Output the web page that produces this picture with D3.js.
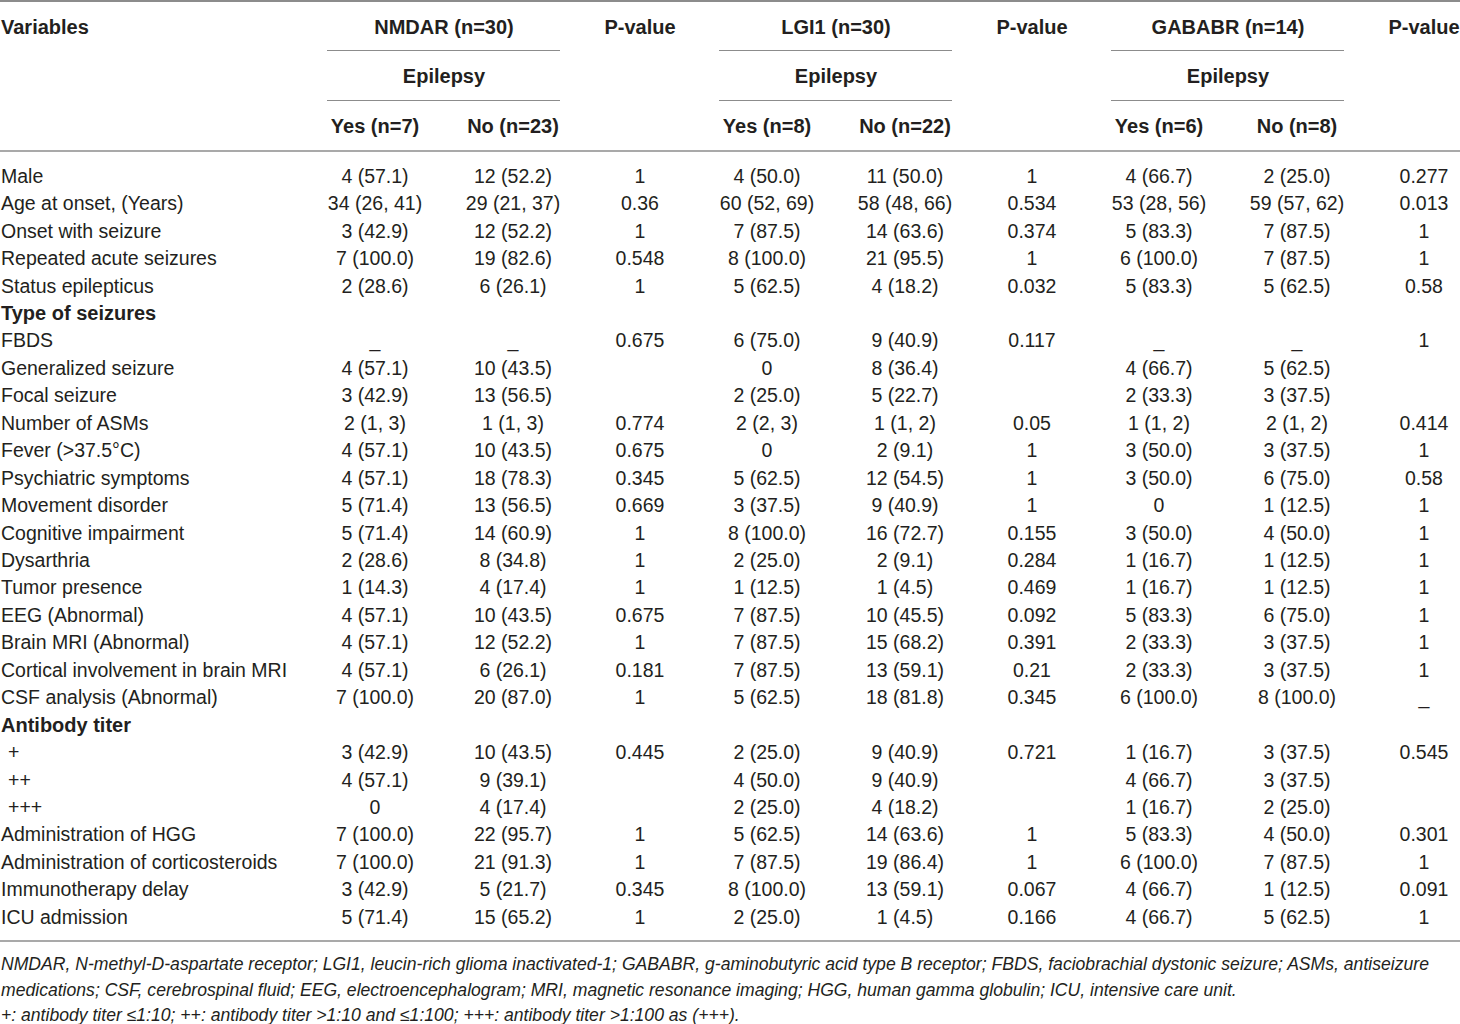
<!DOCTYPE html>
<html>
<head>
<meta charset="utf-8">
<script src="https://cdn.jsdelivr.net/npm/d3@7"></script>
<style>
  body { margin: 0; background: #fff; }
  svg text { font-family: "Liberation Sans", Arial, sans-serif; fill: #231f20; }
</style>
</head>
<body>
<svg id="chart" width="1460" height="1024"></svg>
<script>

// table content
var variables = ['Male', 'Age at onset, (Years)', 'Onset with seizure', 'Repeated acute seizures',
    'Status epilepticus', 'Type of seizures', 'FBDS', 'Generalized seizure', 'Focal seizure',
    'Number of ASMs', 'Fever (>37.5°C)', 'Psychiatric symptoms', 'Movement disorder',
    'Cognitive impairment', 'Dysarthria', 'Tumor presence', 'EEG (Abnormal)', 'Brain MRI (Abnormal)',
    'Cortical involvement in brain MRI', 'CSF analysis (Abnormal)', 'Antibody titer', '+', '++', '+++',
    'Administration of HGG', 'Administration of corticosteroids', 'Immunotherapy delay', 'ICU admission']

var sectionRows = ['Type of seizures', 'Antibody titer']
var indentedRows = ['+', '++', '+++']

var groups = ['NMDAR (n=30)', 'LGI1 (n=30)', 'GABABR (n=14)']
var subHeaders = ['Yes (n=7)', 'No (n=23)', 'Yes (n=8)', 'No (n=22)', 'Yes (n=6)', 'No (n=8)']

var nmdarYes = ['4 (57.1)', '34 (26, 41)', '3 (42.9)', '7 (100.0)', '2 (28.6)', '', '_', '4 (57.1)', '3 (42.9)',
    '2 (1, 3)', '4 (57.1)', '4 (57.1)', '5 (71.4)', '5 (71.4)', '2 (28.6)', '1 (14.3)', '4 (57.1)', '4 (57.1)',
    '4 (57.1)', '7 (100.0)', '', '3 (42.9)', '4 (57.1)', '0', '7 (100.0)', '7 (100.0)', '3 (42.9)', '5 (71.4)']
var nmdarNo = ['12 (52.2)', '29 (21, 37)', '12 (52.2)', '19 (82.6)', '6 (26.1)', '', '_', '10 (43.5)', '13 (56.5)',
    '1 (1, 3)', '10 (43.5)', '18 (78.3)', '13 (56.5)', '14 (60.9)', '8 (34.8)', '4 (17.4)', '10 (43.5)', '12 (52.2)',
    '6 (26.1)', '20 (87.0)', '', '10 (43.5)', '9 (39.1)', '4 (17.4)', '22 (95.7)', '21 (91.3)', '5 (21.7)', '15 (65.2)']
var nmdarP = ['1', '0.36', '1', '0.548', '1', '', '0.675', '', '',
    '0.774', '0.675', '0.345', '0.669', '1', '1', '1', '0.675', '1',
    '0.181', '1', '', '0.445', '', '', '1', '1', '0.345', '1']

var lgi1Yes = ['4 (50.0)', '60 (52, 69)', '7 (87.5)', '8 (100.0)', '5 (62.5)', '', '6 (75.0)', '0', '2 (25.0)',
    '2 (2, 3)', '0', '5 (62.5)', '3 (37.5)', '8 (100.0)', '2 (25.0)', '1 (12.5)', '7 (87.5)', '7 (87.5)',
    '7 (87.5)', '5 (62.5)', '', '2 (25.0)', '4 (50.0)', '2 (25.0)', '5 (62.5)', '7 (87.5)', '8 (100.0)', '2 (25.0)']
var lgi1No = ['11 (50.0)', '58 (48, 66)', '14 (63.6)', '21 (95.5)', '4 (18.2)', '', '9 (40.9)', '8 (36.4)', '5 (22.7)',
    '1 (1, 2)', '2 (9.1)', '12 (54.5)', '9 (40.9)', '16 (72.7)', '2 (9.1)', '1 (4.5)', '10 (45.5)', '15 (68.2)',
    '13 (59.1)', '18 (81.8)', '', '9 (40.9)', '9 (40.9)', '4 (18.2)', '14 (63.6)', '19 (86.4)', '13 (59.1)', '1 (4.5)']
var lgi1P = ['1', '0.534', '0.374', '1', '0.032', '', '0.117', '', '',
    '0.05', '1', '1', '1', '0.155', '0.284', '0.469', '0.092', '0.391',
    '0.21', '0.345', '', '0.721', '', '', '1', '1', '0.067', '0.166']

var gababrYes = ['4 (66.7)', '53 (28, 56)', '5 (83.3)', '6 (100.0)', '5 (83.3)', '', '_', '4 (66.7)', '2 (33.3)',
    '1 (1, 2)', '3 (50.0)', '3 (50.0)', '0', '3 (50.0)', '1 (16.7)', '1 (16.7)', '5 (83.3)', '2 (33.3)',
    '2 (33.3)', '6 (100.0)', '', '1 (16.7)', '4 (66.7)', '1 (16.7)', '5 (83.3)', '6 (100.0)', '4 (66.7)', '4 (66.7)']
var gababrNo = ['2 (25.0)', '59 (57, 62)', '7 (87.5)', '7 (87.5)', '5 (62.5)', '', '_', '5 (62.5)', '3 (37.5)',
    '2 (1, 2)', '3 (37.5)', '6 (75.0)', '1 (12.5)', '4 (50.0)', '1 (12.5)', '1 (12.5)', '6 (75.0)', '3 (37.5)',
    '3 (37.5)', '8 (100.0)', '', '3 (37.5)', '3 (37.5)', '2 (25.0)', '4 (50.0)', '7 (87.5)', '1 (12.5)', '5 (62.5)']
var gababrP = ['0.277', '0.013', '1', '1', '0.58', '', '1', '', '',
    '0.414', '1', '0.58', '1', '1', '1', '1', '1', '1',
    '1', '_', '', '0.545', '', '', '0.301', '1', '0.091', '1']

var footnotes = [
    'NMDAR, N-methyl-D-aspartate receptor; LGI1, leucin-rich glioma inactivated-1; GABABR, g-aminobutyric acid type B receptor; FBDS, faciobrachial dystonic seizure; ASMs, antiseizure',
    'medications; CSF, cerebrospinal fluid; EEG, electroencephalogram; MRI, magnetic resonance imaging; HGG, human gamma globulin; ICU, intensive care unit.',
    '+: antibody titer \u22641:10; ++: antibody titer >1:10 and \u22641:100; +++: antibody titer >1:100 as (+++).'
]

var columns = [nmdarYes, nmdarNo, nmdarP, lgi1Yes, lgi1No, lgi1P, gababrYes, gababrNo, gababrP]

// layout
var W = 1460
var fontSize = 19.5
var headSize = 20
var lineColor = '#8c8c8c'

var svg = d3.select('#chart')

// column centres: 3 groups of (yes, no, p)
var gx = d3.scaleLinear().domain([0, 2]).range([375, 1159])
var colX = function(i){
    var g = Math.floor(i / 3), k = i % 3
    return gx(g) + [0, 138, 265][k]
}
var groupCenter = function(g){ return (colX(g * 3) + colX(g * 3 + 1)) / 2 }

var y = d3.scalePoint()
    .domain(d3.range(variables.length))
    .range([176, 917])

// rules
function rule(x1, x2, yy, w){
    svg.append('line')
        .attr('x1', x1).attr('x2', x2)
        .attr('y1', yy).attr('y2', yy)
        .attr('stroke', lineColor)
        .attr('stroke-width', w)
}
rule(0, W, 1, 2)
groups.forEach(function(g, i){
    rule(groupCenter(i) - 117, groupCenter(i) + 116, 50.5, 1.2)
    rule(groupCenter(i) - 117, groupCenter(i) + 116, 100.5, 1.2)
})
rule(0, W, 151, 1.5)
rule(0, W, 941, 1.5)

// header
var header = svg.append('g').attr('font-weight', 'bold').attr('font-size', headSize)
header.append('text').attr('x', 1).attr('y', 27).attr('dy', '0.35em').text('Variables')

header.selectAll('.grp').data(groups).enter().append('text')
    .attr('x', function(d, i){ return groupCenter(i) })
    .attr('y', 27).attr('dy', '0.35em')
    .attr('text-anchor', 'middle')
    .text(function(d){ return d })

header.selectAll('.pv').data(groups).enter().append('text')
    .attr('x', function(d, i){ return colX(i * 3 + 2) })
    .attr('y', 27).attr('dy', '0.35em')
    .attr('text-anchor', 'middle')
    .text('P-value')

header.selectAll('.ep').data(groups).enter().append('text')
    .attr('x', function(d, i){ return groupCenter(i) })
    .attr('y', 76).attr('dy', '0.35em')
    .attr('text-anchor', 'middle')
    .text('Epilepsy')

header.selectAll('.sub').data(subHeaders).enter().append('text')
    .attr('x', function(d, i){ return colX(Math.floor(i / 2) * 3 + i % 2) })
    .attr('y', 126).attr('dy', '0.35em')
    .attr('text-anchor', 'middle')
    .text(function(d){ return d })

// body
var body = svg.append('g').attr('font-size', fontSize)

body.selectAll('.var').data(variables).enter().append('text')
    .attr('x', function(d){ return indentedRows.indexOf(d) >= 0 ? 8 : 1 })
    .attr('y', function(d, i){ return y(i) })
    .attr('dy', '0.35em')
    .attr('font-weight', function(d){ return sectionRows.indexOf(d) >= 0 ? 'bold' : 'normal' })
    .attr('font-size', function(d){ return sectionRows.indexOf(d) >= 0 ? headSize : fontSize })
    .text(function(d){ return d })

columns.forEach(function(col, ci){
    body.selectAll('.c' + ci).data(col).enter().append('text')
        .attr('x', colX(ci))
        .attr('y', function(d, i){ return y(i) })
        .attr('dy', '0.35em')
        .attr('text-anchor', 'middle')
        .text(function(d){ return d })
})

// footnotes
svg.append('g').attr('font-size', 17.6).attr('font-style', 'italic')
    .selectAll('text').data(footnotes).enter().append('text')
    .attr('x', 1)
    .attr('y', function(d, i){ return 964 + i * 25.5 })
    .attr('dy', '0.35em')
    .text(function(d){ return d })

</script>
</body>
</html>
